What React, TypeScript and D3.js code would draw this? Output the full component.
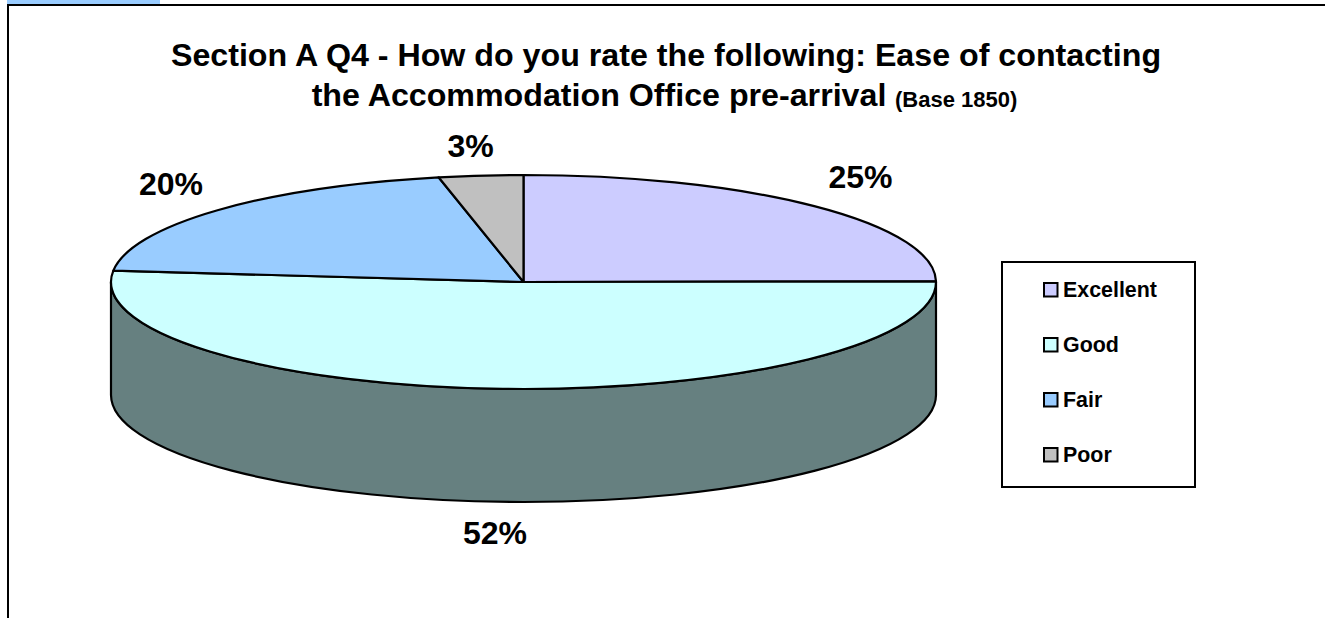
import React from "react";
import * as d3 from "d3";

const categories = ["Excellent", "Good", "Fair", "Poor"];
const values = [24.9, 51.8, 20.0, 3.3];
const colors = ["#CCCCFF", "#CCFFFF", "#99CCFF", "#C0C0C0"];
const labelPositions: [number, number][] = [[860.5, 188], [495, 544], [171, 195], [470.5, 157]];
const titleLines = ["Section A Q4 - How do you rate the following: Ease of contacting", "the Accommodation Office pre-arrival"];
const titleNote = "(Base 1850)";

const W = 1325, H = 618;
const cx = 523.5, cy = 282, rx = 412.5, ry = 107, depth = 113;
const FONT = "'Liberation Sans', Arial, sans-serif";

export default function App() {
  const arcs = d3.pie<number>().sort(null).startAngle(0).endAngle(2 * Math.PI)(values);
  const arc = d3.arc<d3.PieArcDatum<number>>().innerRadius(0).outerRadius(rx);
  const side = `M${cx - rx},${cy}L${cx - rx},${cy + depth}A${rx},${ry} 0 0 0 ${cx + rx},${cy + depth}L${cx + rx},${cy}A${rx},${ry} 0 0 1 ${cx - rx},${cy}Z`;
  const legendY = d3.scalePoint<string>().domain(categories).range([289.5, 454.5]);
  return (
    <svg width={W} height={H} style={{ position: "absolute", left: 0, top: 0, background: "#fff" }} fontFamily={FONT} fontWeight="bold">
      <rect x={7} y={0} width={153} height={4} fill="#99CCFF" />
      <path d={`M8,${H}L8,5L${W},5`} fill="none" stroke="#000" strokeWidth={2} />
      <text textAnchor="middle" fontSize={32.2}>
        <tspan x={666} y={66}>{titleLines[0]}</tspan>
        <tspan x={599} y={106}>{titleLines[1]}</tspan>
      </text>
      <text x={895} y={106.5} fontSize={22}>{titleNote}</text>
      <path d={side} fill="#668080" stroke="#000" strokeWidth={2.2} />
      <g transform={`translate(${cx},${cy}) scale(1,${ry / rx})`}>
        {arcs.map((d, i) => (
          <path key={categories[i]} d={arc(d) as string} fill={colors[i]} stroke="#000" strokeWidth={2.2} vectorEffect="non-scaling-stroke" strokeLinejoin="round" />
        ))}
      </g>
      {arcs.map((d, i) => (
        <text key={i} x={labelPositions[i][0]} y={labelPositions[i][1]} textAnchor="middle" fontSize={32}>
          {`${Math.round(d.value)}%`}
        </text>
      ))}
      <rect x={1002} y={262} width={193} height={225} fill="#fff" stroke="#000" strokeWidth={2} />
      {categories.map((c, i) => (
        <g key={c} transform={`translate(0,${legendY(c)})`}>
          <rect x={1044} y={-6.5} width={13.5} height={13.5} fill={colors[i]} stroke="#000" strokeWidth={2} />
          <text x={1063} y={7.5} fontSize={21.4}>{c}</text>
        </g>
      ))}
    </svg>
  );
}
